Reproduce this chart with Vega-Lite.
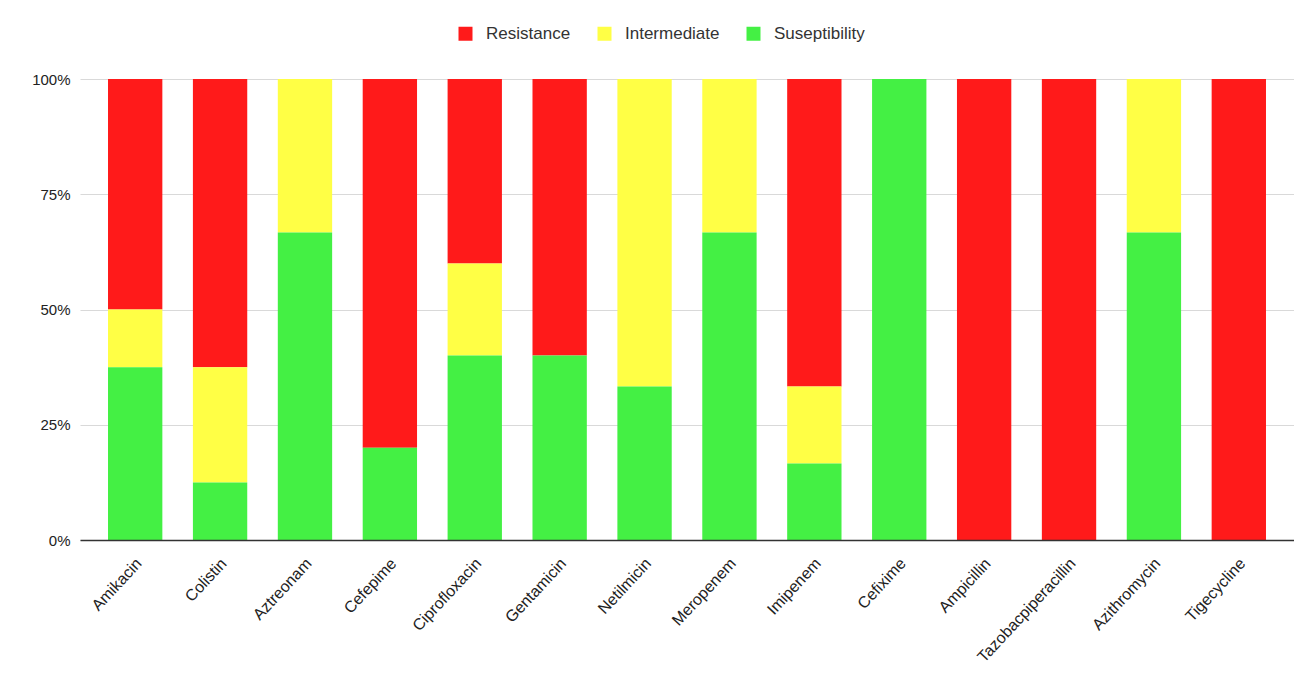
{
  "$schema": "https://vega.github.io/schema/vega-lite/v6.json",
  "width": 1214,
  "height": 461,
  "autosize": {"type": "none"},
  "padding": {"left": 80, "top": 79, "right": 0, "bottom": 137},
  "background": "white",
  "config": {"view": {"stroke": null}, "font": "Liberation Sans"},
  "data": {"values": [
    {"drug": "Amikacin", "cat": "Resistance", "o": 3, "v": 50},
    {"drug": "Amikacin", "cat": "Intermediate", "o": 2, "v": 12.5},
    {"drug": "Amikacin", "cat": "Suseptibility", "o": 1, "v": 37.5},
    {"drug": "Colistin", "cat": "Resistance", "o": 3, "v": 62.5},
    {"drug": "Colistin", "cat": "Intermediate", "o": 2, "v": 25},
    {"drug": "Colistin", "cat": "Suseptibility", "o": 1, "v": 12.5},
    {"drug": "Aztreonam", "cat": "Resistance", "o": 3, "v": 0},
    {"drug": "Aztreonam", "cat": "Intermediate", "o": 2, "v": 33.3},
    {"drug": "Aztreonam", "cat": "Suseptibility", "o": 1, "v": 66.7},
    {"drug": "Cefepime", "cat": "Resistance", "o": 3, "v": 80},
    {"drug": "Cefepime", "cat": "Intermediate", "o": 2, "v": 0},
    {"drug": "Cefepime", "cat": "Suseptibility", "o": 1, "v": 20},
    {"drug": "Ciprofloxacin", "cat": "Resistance", "o": 3, "v": 40},
    {"drug": "Ciprofloxacin", "cat": "Intermediate", "o": 2, "v": 20},
    {"drug": "Ciprofloxacin", "cat": "Suseptibility", "o": 1, "v": 40},
    {"drug": "Gentamicin", "cat": "Resistance", "o": 3, "v": 60},
    {"drug": "Gentamicin", "cat": "Intermediate", "o": 2, "v": 0},
    {"drug": "Gentamicin", "cat": "Suseptibility", "o": 1, "v": 40},
    {"drug": "Netilmicin", "cat": "Resistance", "o": 3, "v": 0},
    {"drug": "Netilmicin", "cat": "Intermediate", "o": 2, "v": 66.7},
    {"drug": "Netilmicin", "cat": "Suseptibility", "o": 1, "v": 33.3},
    {"drug": "Meropenem", "cat": "Resistance", "o": 3, "v": 0},
    {"drug": "Meropenem", "cat": "Intermediate", "o": 2, "v": 33.3},
    {"drug": "Meropenem", "cat": "Suseptibility", "o": 1, "v": 66.7},
    {"drug": "Imipenem", "cat": "Resistance", "o": 3, "v": 66.7},
    {"drug": "Imipenem", "cat": "Intermediate", "o": 2, "v": 16.7},
    {"drug": "Imipenem", "cat": "Suseptibility", "o": 1, "v": 16.6},
    {"drug": "Cefixime", "cat": "Resistance", "o": 3, "v": 0},
    {"drug": "Cefixime", "cat": "Intermediate", "o": 2, "v": 0},
    {"drug": "Cefixime", "cat": "Suseptibility", "o": 1, "v": 100},
    {"drug": "Ampicillin", "cat": "Resistance", "o": 3, "v": 100},
    {"drug": "Ampicillin", "cat": "Intermediate", "o": 2, "v": 0},
    {"drug": "Ampicillin", "cat": "Suseptibility", "o": 1, "v": 0},
    {"drug": "Tazobacpiperacillin", "cat": "Resistance", "o": 3, "v": 100},
    {"drug": "Tazobacpiperacillin", "cat": "Intermediate", "o": 2, "v": 0},
    {"drug": "Tazobacpiperacillin", "cat": "Suseptibility", "o": 1, "v": 0},
    {"drug": "Azithromycin", "cat": "Resistance", "o": 3, "v": 0},
    {"drug": "Azithromycin", "cat": "Intermediate", "o": 2, "v": 33.3},
    {"drug": "Azithromycin", "cat": "Suseptibility", "o": 1, "v": 66.7},
    {"drug": "Tigecycline", "cat": "Resistance", "o": 3, "v": 100},
    {"drug": "Tigecycline", "cat": "Intermediate", "o": 2, "v": 0},
    {"drug": "Tigecycline", "cat": "Suseptibility", "o": 1, "v": 0}
  ]},
  "mark": {"type": "bar"},
  "encoding": {
    "x": {
      "field": "drug", "type": "nominal", "sort": null,
      "scale": {"paddingInner": 0.36, "paddingOuter": 0.33},
      "axis": {
        "title": null, "labelAngle": -47, "labelAlign": "right", "labelBaseline": "top",
        "labelFontSize": 16, "labelColor": "#222222", "labelPadding": 15, "labelOffset": -2,
        "ticks": false, "domainColor": "#333333", "domainWidth": 1.5, "grid": false, "zindex": 1
      }
    },
    "y": {
      "field": "v", "type": "quantitative", "stack": "normalize",
      "scale": {"domain": [0, 1]},
      "axis": {
        "title": null, "format": "%", "values": [0, 0.25, 0.5, 0.75, 1],
        "labelFontSize": 15, "labelColor": "#222222", "labelPadding": 10,
        "ticks": false, "domain": false, "gridColor": "#d9d9d9", "gridWidth": 1
      }
    },
    "color": {
      "field": "cat", "type": "nominal",
      "scale": {"domain": ["Resistance", "Intermediate", "Suseptibility"], "range": ["#ff1a1a", "#ffff45", "#44f044"]},
      "legend": {
        "title": null, "orient": "none", "legendX": 377, "legendY": -54, "direction": "horizontal",
        "symbolType": "square", "symbolSize": 196, "symbolStrokeWidth": 0,
        "labelFontSize": 17, "labelColor": "#333333", "columnPadding": 25,
        "labelOffset": 12
      }
    },
    "order": {"field": "o", "type": "quantitative"}
  }
}
